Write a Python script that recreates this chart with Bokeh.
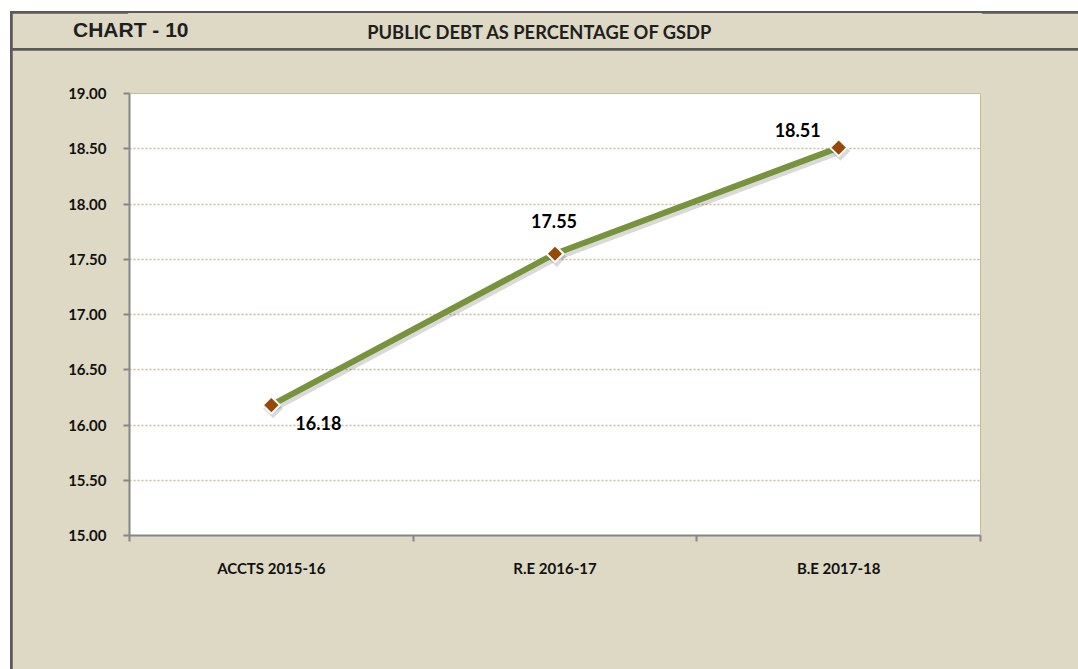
from bokeh.plotting import figure
from bokeh.layouts import column
from bokeh.models import FixedTicker, ColumnDataSource, NumeralTickFormatter, Label
from bokeh.transform import dodge
from bokeh.core.properties import value
from bokeh.embed import file_html
from bokeh.resources import INLINE

# ---- data ----
chart_number = "CHART - 10"
chart_title = "PUBLIC DEBT AS PERCENTAGE OF GSDP"
categories = ["ACCTS 2015-16", "R.E 2016-17", "B.E 2017-18"]
debt_pct = [16.18, 17.55, 18.51]
y_ticks = [15.0, 15.5, 16.0, 16.5, 17.0, 17.5, 18.0, 18.5, 19.0]

# ---- label placement (screen px offsets from each point) ----
label_dx = [47, -1, -41]
label_dy = [18, -33, -18]

BEIGE = "#DDD9C4"
GRID = "#C4BD97"
AXIS = "#868686"
FONT = "Lato"
LEFT, FW, RIGHT = 117, 851, 98
HH = 35

xs = [i + 1 for i in range(len(categories))]
src = ColumnDataSource(dict(
    x=xs, y=debt_pct,
    label=[f"{v:.2f}" for v in debt_pct],
    dx=label_dx, dy=label_dy,
))

# ---- header ----
header = figure(frame_width=FW, frame_height=HH,
                min_border_left=LEFT, min_border_right=RIGHT,
                min_border_top=0, min_border_bottom=0,
                x_range=(LEFT, LEFT + FW), y_range=(0, HH),
                output_backend="svg", toolbar_location=None,
                x_axis_location=None, y_axis_location="left",
                margin=(2, 0, 0, 2))
header.grid.visible = False
header.outline_line_color = BEIGE
header.outline_line_width = 3
header.background_fill_color = BEIGE
header.border_fill_color = BEIGE
hy = header.yaxis[0]
hy.ticker = FixedTicker(ticks=[19])
hy.major_label_overrides = {19: chart_number}
hy.axis_line_color = None
hy.major_tick_line_color = None
hy.minor_tick_line_color = None
hy.major_tick_out = 0
hy.major_tick_in = 0
hy.major_label_standoff = -59
hy.major_label_text_font = "Liberation Sans"
hy.major_label_text_font_style = "bold"
hy.major_label_text_font_size = "21px"
hy.major_label_text_color = "#1F1F1F"
header.add_layout(Label(x=354.7, y=16.3, text=chart_title,
                        text_font=FONT, text_font_style="bold",
                        text_font_size="18.3px", text_color="#1F1F1F",
                        text_align="left", text_baseline="middle"))

# ---- main chart ----
p = figure(frame_width=FW, frame_height=442,
           x_range=(0.5, len(categories) + 0.5), y_range=(y_ticks[0], y_ticks[-1]),
           min_border_left=LEFT, min_border_right=RIGHT,
           min_border_top=43, min_border_bottom=134,
           output_backend="svg", toolbar_location=None,
           margin=(2, 0, 0, 2))
p.background_fill_color = "white"
p.border_fill_color = BEIGE
p.outline_line_color = GRID
p.outline_line_width = 1

p.xgrid.visible = False
p.ygrid.grid_line_color = GRID
p.ygrid.grid_line_width = 1.5
p.ygrid.grid_line_dash = "2 2"

p.yaxis.ticker = FixedTicker(ticks=y_ticks)
p.yaxis.formatter = NumeralTickFormatter(format="0.00")
p.xaxis.ticker = FixedTicker(ticks=xs, minor_ticks=[x - 0.5 for x in xs] + [xs[-1] + 0.5])
p.xaxis.major_label_overrides = {x: c for x, c in zip(xs, categories)}

for ax in (p.xaxis[0], p.yaxis[0]):
    ax.axis_line_color = AXIS
    ax.axis_line_width = 2
    ax.major_label_text_font = FONT
    ax.major_label_text_font_style = "bold"
    ax.major_label_text_font_size = "15px"
    ax.major_label_text_color = "#111111"

p.yaxis.major_tick_line_color = AXIS
p.yaxis.major_tick_line_width = 2
p.yaxis.major_tick_out = 6
p.yaxis.major_tick_in = 0
p.yaxis.minor_tick_line_color = None
p.yaxis.major_label_standoff = 17

p.xaxis.major_tick_line_color = None
p.xaxis.major_tick_out = 0
p.xaxis.major_tick_in = 0
p.xaxis.minor_tick_line_color = AXIS
p.xaxis.minor_tick_line_width = 2
p.xaxis.minor_tick_out = 6
p.xaxis.minor_tick_in = 0
p.xaxis.major_label_standoff = 17

# shadow
p.line(x=dodge("x", 0.006, range=p.x_range), y=dodge("y", -0.03, range=p.y_range),
       source=src, line_color="#000000", line_alpha=0.15, line_width=7)
p.line(x="x", y="y", source=src, line_color="#77933C", line_width=6)
p.scatter(x=dodge("x", 0.006, range=p.x_range), y=dodge("y", -0.03, range=p.y_range),
          source=src, marker="square", size=14, angle=0.785398,
          fill_color="#000000", fill_alpha=0.15, line_color=None)
p.scatter(x="x", y="y", source=src, marker="square", size=12, angle=0.785398,
          fill_color="#984807", line_color="white", line_width=2)
p.text(x="x", y="y", text="label", x_offset="dx", y_offset="dy", source=src,
       text_font=value(FONT), text_font_style="bold", text_font_size="18px",
       text_color="#000000", text_align="center", text_baseline="middle")

layout = column(header, p, spacing=0, margin=(11, 0, 0, 10),
                styles={"background-color": "#5A5A5A"})

open("out.html", "w").write(file_html(layout, INLINE))
